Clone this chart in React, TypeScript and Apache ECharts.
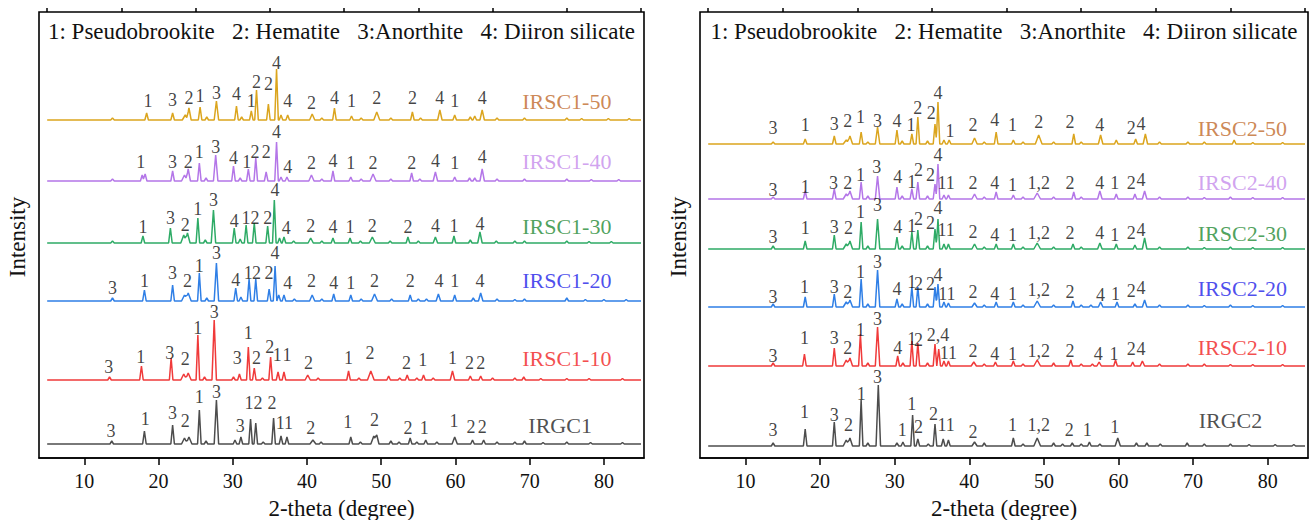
import React, { useEffect, useRef } from "react";
import * as echarts from "echarts";

const FONT = "Liberation Serif, DejaVu Serif, serif";

// axis ticks
const majorTicks = [10, 20, 30, 40, 50, 60, 70, 80];
const minorTicks = [5, 15, 25, 35, 45, 55, 65, 75, 85];
const xMin = 3.9;
const xMax = 85.4;
const yMax = 446;

const legendText = "1: Pseudobrookite   2: Hematite   3:Anorthite   4: Diiron silicate";
const xTitle = "2-theta (degree)";
const yTitle = "Intensity";

// ---------- Left panel samples ----------
const leftNames = ["IRGC1", "IRSC1-10", "IRSC1-20", "IRSC1-30", "IRSC1-40", "IRSC1-50"];
const leftOffsets = [14, 78, 157, 215, 277, 338];
const leftNameX = [74.1, 75.0, 75.0, 75.0, 75.0, 75.0];
const leftNameY = [19, 22, 21, 17, 20, 19];

// peaks: [2theta, height, half-width]
const irgc1Peaks = [[13.7,3],[18.1,13],[21.9,19],[23.5,6,0.4],[24.1,7,0.4],[25.5,34],[26.4,3],[27.8,44,0.3],[30.3,4],[31.1,7],[32.4,25],[33.1,21],[34.1,2],[35.5,26],[36.5,8],[37.3,7],[40.8,4,0.4],[41.9,2],[45.9,7],[47.2,2],[49.0,8,0.4],[49.4,9,0.3],[51.3,3],[52.4,2],[53.9,6],[54.8,2],[56.0,4],[57.5,2],[59.9,7,0.35],[62.3,4],[63.8,4],[65.6,2],[68.0,2],[69.3,3],[71.8,1.5],[75.0,2],[78.2,1.5],[82.5,1.5]];
const irgc1Labels = [[13.6,13,"3"],[18.2,25,"1"],[21.9,31,"3"],[23.6,23,"2"],[25.5,47,"1"],[27.8,52,"3"],[31.0,18,"3"],[32.2,41,"1"],[33.4,41,"2"],[35.3,41,"2"],[36.4,21,"1"],[37.5,21,"1"],[40.5,16,"2"],[45.5,22,"1"],[49.1,24,"2"],[53.6,16,"2"],[55.8,16,"1"],[59.8,23,"1"],[62.1,17,"2"],[63.6,17,"2"]];

const irsc110Peaks = [[13.4,3],[17.7,14],[21.7,22],[23.4,6,0.4],[24.0,7,0.4],[25.3,45],[26.2,3],[27.5,60,0.3],[30.1,3],[30.9,6],[32.1,33],[32.9,12],[34.0,2],[35.1,23],[36.1,8],[36.9,8],[40.1,5,0.35],[41.5,2],[45.6,9],[47.0,2],[48.6,9,0.45],[51.0,4],[52.5,2],[53.5,5],[54.8,2],[55.7,5],[57.0,2],[59.6,9,0.3],[62.0,4],[63.4,4],[65.0,2],[68.0,2],[69.2,3],[71.5,1.5],[75.0,1.5],[78.0,1.5],[82.5,1.5]];
const irsc110Labels = [[13.3,13,"3"],[17.6,23,"1"],[21.5,27,"3"],[23.6,21,"2"],[25.3,52,"1"],[27.5,68,"3"],[30.6,22,"3"],[32.1,47,"1"],[33.2,22,"2"],[35.0,33,"2"],[36.0,25,"1"],[37.3,25,"1"],[40.2,17,"2"],[45.6,22,"1"],[48.5,27,"2"],[53.4,17,"2"],[55.6,20,"1"],[59.6,22,"1"],[61.9,17,"2"],[63.4,17,"2"]];

const irsc120Peaks = [[13.8,3],[18.1,11],[21.9,16],[23.5,6,0.4],[24.0,8,0.4],[25.5,28],[26.5,3],[27.8,38,0.3],[30.4,13],[31.1,4],[32.2,22],[33.1,22],[34.9,12],[35.7,35],[36.2,6],[36.9,6],[38.3,2],[40.7,6,0.35],[42.0,2],[43.6,7],[45.9,6],[47.3,2],[49.1,7,0.4],[51.4,2],[53.9,6],[55.0,2],[56.1,2],[57.7,7,0.3],[59.9,6],[62.4,3],[63.4,8,0.3],[65.6,2],[68.0,1.5],[69.3,2],[75.0,3],[77.5,1.5],[80.0,1.5],[83.0,1.5]];
const irsc120Labels = [[13.8,13,"3"],[18.1,20,"1"],[21.9,28,"3"],[23.9,20,"2"],[25.5,35,"1"],[27.8,48,"3"],[30.4,21,"4"],[32.1,28,"1"],[33.2,28,"2"],[34.9,28,"2"],[35.7,48,"4"],[37.4,18,"4"],[40.6,20,"2"],[43.6,18,"4"],[45.9,18,"1"],[49.1,20,"2"],[53.9,20,"2"],[57.8,20,"4"],[59.9,20,"1"],[63.3,20,"4"]];

const irsc130Peaks = [[13.8,2],[17.9,7],[21.6,15],[23.4,8,0.4],[23.9,10,0.35],[25.3,25],[26.3,3],[27.4,33,0.3],[30.2,15],[31.0,4],[31.8,18],[32.9,20],[34.7,17],[35.6,43],[36.3,5],[36.9,6],[38.2,2],[40.5,5,0.35],[42.0,2],[43.5,5],[45.8,5],[47.2,2],[48.8,6,0.4],[51.2,2],[53.6,6],[55.0,2],[57.3,6,0.3],[59.8,7],[62.0,3],[63.3,11,0.3],[65.5,2],[68.0,2],[69.3,2],[75.0,2],[78.0,1.5],[81.0,1.5]];
const irsc130Labels = [[17.9,16,"1"],[21.6,25,"3"],[23.6,18,"2"],[25.3,34,"1"],[27.4,43,"3"],[30.2,22,"4"],[31.8,25,"1"],[33.0,25,"2"],[34.7,25,"2"],[35.7,53,"4"],[37.2,15,"4"],[40.5,17,"2"],[43.5,16,"4"],[45.8,16,"1"],[48.8,17,"2"],[53.6,16,"2"],[57.3,17,"4"],[59.8,17,"1"],[63.3,19,"4"]];

const irsc140Peaks = [[13.8,2],[17.8,6],[18.2,7],[21.9,10],[23.5,6,0.4],[24.0,12,0.3],[25.5,18],[26.4,3],[27.7,26,0.3],[30.1,15],[31.0,3],[32.1,12],[33.1,23],[34.5,9],[35.9,39],[36.5,4],[37.3,4],[40.6,6,0.35],[42.0,2],[43.5,10],[45.9,4],[47.3,2],[48.9,7,0.4],[51.3,2],[54.1,8],[55.2,2],[57.3,9,0.3],[59.9,4],[61.9,3],[62.6,3],[63.6,12,0.3],[65.6,2],[69.3,2],[75.0,2],[78.3,1.5],[82.0,1.5]];
const irsc140Labels = [[17.6,19,"1"],[21.9,19,"3"],[24.0,19,"2"],[25.5,29,"1"],[27.7,34,"3"],[30.1,23,"4"],[31.9,19,"1"],[33.0,29,"2"],[34.5,29,"2"],[35.9,49,"4"],[37.4,14,"4"],[40.6,18,"2"],[43.5,20,"4"],[45.9,18,"1"],[48.9,18,"2"],[54.1,18,"2"],[57.3,20,"4"],[59.9,18,"1"],[63.6,24,"4"]];

const irsc150Peaks = [[13.8,2],[18.4,7],[21.9,7],[23.6,5,0.4],[24.1,12,0.3],[25.6,13],[26.5,3],[27.8,19,0.3],[30.5,14],[31.2,3],[32.5,9],[33.2,30],[34.8,16],[35.9,51],[36.5,5],[37.4,5],[40.7,6,0.35],[42.0,2],[43.7,12],[46.0,4],[47.3,2],[49.4,8,0.4],[51.3,2],[54.2,8],[55.3,2],[57.9,10,0.3],[59.9,5],[62.0,3],[62.6,4],[63.6,10,0.3],[65.6,2],[69.3,2],[75.0,2],[77.0,1.5],[80.6,1.5],[83.4,1.5]];
const irsc150Labels = [[18.6,19,"1"],[21.9,20,"3"],[24.1,22,"2"],[25.6,24,"1"],[27.8,27,"3"],[30.5,26,"4"],[32.5,19,"1"],[33.2,38,"2"],[34.8,36,"2"],[35.9,57,"4"],[37.4,19,"4"],[40.6,17,"2"],[43.7,22,"4"],[46.0,19,"1"],[49.4,22,"2"],[54.2,22,"2"],[57.9,22,"4"],[59.9,19,"1"],[63.6,22,"4"]];

// ---------- Right panel samples ----------
const rightNames = ["IRGC2", "IRSC2-10", "IRSC2-20", "IRSC2-30", "IRSC2-40", "IRSC2-50"];
const rightOffsets = [12, 92, 151, 209, 259, 314];
const rightNameX = [75.0, 76.6, 76.6, 76.6, 76.6, 76.6];
const rightNameY = [26, 19, 19, 16, 17, 16];

const irgc2Peaks = [[13.7,3],[18.0,17],[21.9,24],[23.5,6,0.4],[24.0,8,0.35],[25.5,46],[26.4,3],[27.8,61,0.3],[30.3,3],[31.1,4],[32.4,31],[33.1,7],[34.5,2],[35.4,22],[36.5,7],[37.2,6],[40.7,4,0.35],[42.0,3],[45.9,8],[47.2,2],[49.1,8,0.45],[51.3,3],[52.5,2],[53.8,3],[55.0,2],[56.1,4],[57.5,2],[59.9,8,0.35],[62.4,3],[63.8,3],[65.6,2],[69.2,3],[71.5,2],[75.0,2],[77.5,1.5],[81.0,1.5],[83.5,1.5]];
const irgc2Labels = [[13.7,16,"3"],[17.9,34,"1"],[21.9,31,"3"],[23.8,21,"2"],[25.5,52,"1"],[27.7,69,"3"],[31.0,16,"1"],[32.3,42,"1"],[33.2,19,"2"],[35.2,32,"2"],[36.9,21,"11"],[40.5,14,"2"],[45.8,21,"1"],[49.3,21,"1,2"],[53.4,16,"2"],[55.8,16,"1"],[59.5,19,"1"]];

const irsc210Peaks = [[13.7,3],[17.9,12],[21.9,18],[23.5,6,0.4],[24.0,8,0.35],[25.4,32],[26.4,3],[27.7,39,0.3],[30.4,10],[31.1,3],[32.3,25],[33.1,23],[34.4,3],[35.4,22],[35.9,17],[36.6,5],[37.2,5],[40.6,4,0.35],[42.0,2],[43.5,4],[45.9,5],[47.2,2],[49.1,6,0.45],[51.3,3],[53.6,6],[55.0,2],[56.5,2],[57.4,4,0.3],[59.6,6],[61.9,4],[63.2,5,0.3],[65.5,2],[69.3,2],[71.5,2],[75.0,1.5],[78.0,1.5],[82.0,1.5]];
const irsc210Labels = [[13.7,10,"3"],[17.9,28,"1"],[21.9,28,"3"],[23.7,18,"2"],[25.4,36,"1"],[27.7,47,"3"],[30.4,18,"4"],[32.3,27,"1"],[33.2,26,"2"],[35.8,31,"2,4"],[37.2,13,"11"],[40.5,15,"2"],[43.4,12,"4"],[45.8,12,"1"],[49.3,15,"1,2"],[53.5,15,"2"],[57.3,12,"4"],[59.4,12,"1"],[61.7,17,"2"],[63.0,17,"4"]];

const irsc220Peaks = [[13.7,3],[18.0,10],[21.9,13],[23.5,5,0.4],[24.0,7,0.35],[25.5,28],[26.4,3],[27.7,37,0.3],[30.3,8],[31.0,3],[32.3,20],[33.1,20],[34.4,3],[35.4,20],[35.8,23],[36.6,5],[37.2,4],[40.7,4,0.35],[42.0,2],[43.6,5],[45.9,5],[47.2,2],[49.1,6,0.45],[51.3,2],[53.9,6],[55.0,2],[56.3,2],[57.6,5,0.3],[59.8,5],[62.2,3],[63.5,7,0.3],[65.5,2],[69.3,2],[71.5,1.5],[75.0,2],[78.0,1.5],[82.0,1.5]];
const irsc220Labels = [[13.7,10,"3"],[17.9,20,"1"],[21.9,20,"3"],[23.7,15,"2"],[25.4,35,"1"],[27.7,45,"3"],[30.3,18,"4"],[32.3,25,"1"],[33.2,23,"2"],[34.8,23,"2"],[35.8,32,"4"],[37.0,13,"11"],[40.5,15,"2"],[43.4,13,"4"],[45.8,13,"1"],[49.3,17,"1,2"],[53.5,15,"2"],[57.6,12,"4"],[59.6,13,"1"],[61.7,16,"2"],[63.0,19,"4"]];

const irsc230Peaks = [[13.7,3],[18.0,8],[21.9,14],[23.5,5,0.4],[24.0,8,0.35],[25.5,27],[26.4,3],[27.7,30,0.3],[30.3,12],[31.0,3],[32.3,17],[33.1,19],[34.4,3],[35.4,20],[35.8,30],[36.6,5],[37.2,5],[40.7,5,0.35],[42.0,2],[43.6,5],[45.9,5],[47.2,2],[49.1,6,0.45],[51.3,2],[53.9,5],[55.0,2],[57.5,6,0.3],[59.7,5],[62.2,4],[63.5,11,0.3],[65.5,2],[69.3,2],[71.5,1.5],[75.0,2],[78.0,1.5],[82.0,1.5]];
const irsc230Labels = [[13.7,12,"3"],[18.0,21,"1"],[21.9,22,"3"],[23.8,21,"2"],[25.4,37,"1"],[27.7,44,"3"],[30.4,22,"4"],[32.3,23,"1"],[33.2,30,"2"],[34.8,26,"2"],[35.8,41,"4"],[36.9,19,"11"],[40.5,17,"2"],[43.4,14,"4"],[45.8,14,"1"],[49.3,16,"1,2"],[53.5,16,"2"],[57.5,16,"4"],[59.5,14,"1"],[61.7,16,"2"],[63.0,19,"4"]];

const irsc240Peaks = [[13.7,2],[18.0,8],[21.9,10],[23.5,5,0.4],[24.0,8,0.35],[25.5,17],[26.4,3],[27.7,23,0.3],[30.3,12],[31.0,3],[32.3,10],[33.1,17],[34.4,3],[35.4,15],[35.8,35],[36.6,4],[37.2,4],[40.7,5,0.35],[42.0,2],[43.6,7],[45.9,4],[47.2,2],[49.1,6,0.45],[51.3,2],[54.0,7],[55.0,2],[57.5,8,0.3],[59.7,5],[62.2,5],[63.5,8,0.3],[65.5,2],[69.3,2],[71.5,1.5],[75.0,2],[78.0,1.5],[82.0,1.5]];
const irsc240Labels = [[13.7,9,"3"],[18.0,12,"1"],[21.8,16,"3"],[23.7,16,"2"],[25.4,24,"1"],[27.6,32,"3"],[30.4,22,"4"],[32.3,17,"1"],[33.2,29,"2"],[34.8,24,"2"],[35.8,44,"4"],[36.9,16,"11"],[40.5,16,"2"],[43.4,16,"4"],[45.8,14,"1"],[49.3,16,"1,2"],[53.5,16,"2"],[57.5,16,"4"],[59.5,16,"1"],[61.7,16,"2"],[63.0,19,"4"]];

const irsc250Peaks = [[13.7,2],[18.0,5],[21.9,8],[23.5,4,0.4],[24.0,8,0.35],[25.5,12],[26.4,2],[27.7,17,0.3],[30.3,14],[31.0,3],[32.3,10],[33.1,27],[34.4,3],[35.4,20],[35.8,42],[36.6,4],[37.3,4],[40.7,6,0.35],[42.0,2],[43.6,12],[45.9,4],[47.2,2],[49.3,9,0.45],[51.3,2],[54.0,10],[55.0,2],[57.6,9,0.3],[59.7,4],[62.3,5],[63.6,10,0.3],[65.5,2],[69.3,2],[71.5,2],[75.5,4],[78.0,1.5],[82.0,1.5]];
const irsc250Labels = [[13.7,16,"3"],[18.0,19,"1"],[21.9,20,"3"],[23.7,23,"2"],[25.4,27,"1"],[27.7,23,"3"],[30.3,23,"4"],[32.2,19,"1"],[33.1,36,"2"],[34.9,31,"2"],[35.8,51,"4"],[37.4,13,"1"],[40.5,19,"2"],[43.4,24,"4"],[45.8,19,"1"],[49.3,22,"2"],[53.5,22,"2"],[57.5,19,"4"],[61.7,16,"2"],[63.0,20,"4"]];

const lineColors = ["#4d4d4d", "#f03a3a", "#2f7fe6", "#2eab66", "#b476e8", "#dba51e"];
const nameColors = ["#222222", "#f01e1e", "#1e1ee8", "#1f8a34", "#c58beb", "#c0692a"];

const leftPeaks = [irgc1Peaks, irsc110Peaks, irsc120Peaks, irsc130Peaks, irsc140Peaks, irsc150Peaks];
const leftLabels = [irgc1Labels, irsc110Labels, irsc120Labels, irsc130Labels, irsc140Labels, irsc150Labels];
const rightPeaks = [irgc2Peaks, irsc210Peaks, irsc220Peaks, irsc230Peaks, irsc240Peaks, irsc250Peaks];
const rightLabels = [irgc2Labels, irsc210Labels, irsc220Labels, irsc230Labels, irsc240Labels, irsc250Labels];

function buildTrace(offset: number, peaks: number[][]) {
  const DEF_W = 0.24;
  const xs = new Set<number>([5, 85]);
  peaks.forEach((p) => {
    const w = p[2] ?? DEF_W;
    xs.add(+(p[0] - w).toFixed(3));
    xs.add(p[0]);
    xs.add(+(p[0] + w).toFixed(3));
  });
  const sorted = Array.from(xs).sort((a, b) => a - b);
  return sorted.map((x) => {
    let y = 0;
    peaks.forEach((p) => {
      const w = p[2] ?? DEF_W;
      const d = Math.abs(x - p[0]);
      if (d < w) y += p[1] * (1 - d / w);
    });
    return [x, offset + y];
  });
}

function buildSeries(panel: number, names: string[], offsets: number[], peaksArr: number[][][], labelsArr: any[][], nameX: number[], nameY: number[]) {
  const out: any[] = [];
  names.forEach((name, i) => {
    out.push({
      type: "line",
      name,
      xAxisIndex: panel * 2,
      yAxisIndex: panel,
      data: buildTrace(offsets[i], peaksArr[i]),
      showSymbol: false,
      symbol: "none",
      lineStyle: { color: lineColors[i], width: 1.5 },
      silent: true,
      z: 2,
    });
    const labelData: any[] = labelsArr[i].map((l: any) => ({
      value: [l[0], offsets[i] + l[1]],
      txt: l[2],
    }));
    labelData.push({
      value: [nameX[i], offsets[i] + nameY[i]],
      txt: name,
      label: { color: nameColors[i], fontSize: 22 },
    });
    out.push({
      type: "scatter",
      xAxisIndex: panel * 2,
      yAxisIndex: panel,
      symbolSize: 1,
      itemStyle: { color: "rgba(0,0,0,0)" },
      silent: true,
      z: 3,
      label: {
        show: true,
        position: "inside",
        align: "center",
        verticalAlign: "middle",
        fontFamily: FONT,
        fontSize: 18,
        color: "#111",
        formatter: (p: any) => p.data.txt,
      },
      data: labelData,
    });
  });
  return out;
}

const grids = [
  { left: 39, top: 12, width: 605, height: 446 },
  { left: 700, top: 12, width: 608, height: 446 },
];

export default function App() {
  const ref = useRef<HTMLDivElement>(null);
  useEffect(() => {
    if (!ref.current) return;
    const chart = echarts.init(ref.current, null, { renderer: "svg" });
    const xAxes: any[] = [];
    grids.forEach((_, gi) => {
      xAxes.push({
        type: "value",
        gridIndex: gi,
        min: xMin,
        max: xMax,
        axisLine: { show: true, onZero: false, lineStyle: { color: "#000", width: 1.5 } },
        axisTick: { show: true, inside: false, length: 7, customValues: majorTicks, lineStyle: { color: "#000", width: 1.5 } },
        axisLabel: { show: true, customValues: majorTicks, margin: 13, fontFamily: FONT, fontSize: 20, color: "#111" },
        splitLine: { show: false },
      });
      xAxes.push({
        type: "value",
        gridIndex: gi,
        min: xMin,
        max: xMax,
        axisLine: { show: false, onZero: false },
        axisTick: { show: true, inside: false, length: 4, customValues: minorTicks, lineStyle: { color: "#000", width: 1.5 } },
        axisLabel: { show: false },
        splitLine: { show: false },
      });
    });
    const yAxes = grids.map((_, gi) => ({
      type: "value",
      gridIndex: gi,
      min: 0,
      max: yMax,
      axisLine: { show: false },
      axisTick: { show: false },
      axisLabel: { show: false },
      splitLine: { show: false },
    }));
    const series = [
      ...buildSeries(0, leftNames, leftOffsets, leftPeaks, leftLabels, leftNameX, leftNameY),
      ...buildSeries(1, rightNames, rightOffsets, rightPeaks, rightLabels, rightNameX, rightNameY),
    ];
    const graphic: any[] = [];
    grids.forEach((g) => {
      const cx = g.left + g.width / 2;
      graphic.push({
        type: "text",
        x: cx,
        y: 31,
        style: { text: legendText, fontFamily: FONT, fontSize: 23, fill: "#111", textAlign: "center", textVerticalAlign: "middle" },
      });
      graphic.push({
        type: "text",
        x: cx,
        y: 508,
        style: { text: xTitle, fontFamily: FONT, fontSize: 23, fill: "#111", textAlign: "center", textVerticalAlign: "middle" },
      });
      graphic.push({
        type: "text",
        x: g.left - 22,
        y: 237,
        rotation: Math.PI / 2,
        style: { text: yTitle, fontFamily: FONT, fontSize: 23, fill: "#111", textAlign: "center", textVerticalAlign: "middle" },
      });
    });
    chart.setOption({
      animation: false,
      backgroundColor: "#ffffff",
      textStyle: { fontFamily: FONT },
      grid: grids.map((g) => ({ ...g, show: true, borderColor: "#000", borderWidth: 1.6, containLabel: false })),
      xAxis: xAxes,
      yAxis: yAxes,
      series,
      graphic,
    });
    return () => chart.dispose();
  }, []);
  return (
    <div
      ref={ref}
      style={{ position: "fixed", left: 0, top: 0, width: 1310, height: 520, background: "#fff" }}
    />
  );
}
